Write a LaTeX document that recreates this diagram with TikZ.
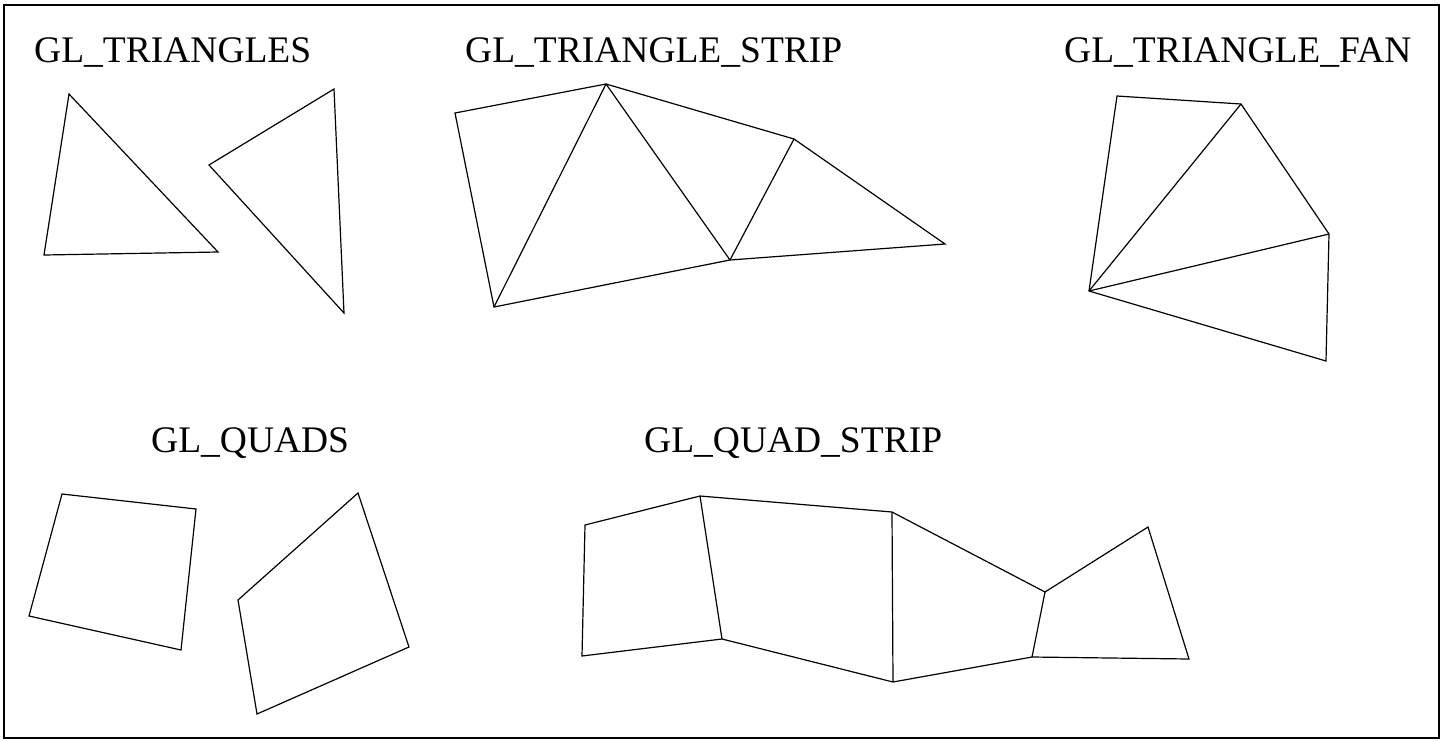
\documentclass[tikz,border=0pt]{standalone}
\usepackage{fontspec}
\setmainfont{Liberation Serif}
\begin{document}
\begin{tikzpicture}[x=1pt,y=-1pt,
  edge/.style={line width=1.2pt, line join=miter},
  title/.style={anchor=base west, inner sep=0pt, font=\fontsize{37.5}{40}\selectfont}]
\useasboundingbox (0,0) rectangle (1444,740);
\draw[line width=2pt] (4,5) rectangle (1439,738);
% labels
\node[title] (tTri) at (34,62) {GL\_TRIANGLES};
\node[title] (tStrip) at (465,62) {GL\_TRIANGLE\_STRIP};
\node[title] (tFan) at (1064,62) {GL\_TRIANGLE\_FAN};
\node[title] (tQuads) at (151,452) {GL\_QUADS};
\node[title] (tQStrip) at (644,452) {GL\_QUAD\_STRIP};
% GL_TRIANGLES
\coordinate (t1a) at (69,94);
\coordinate (t1b) at (44,255);
\coordinate (t1c) at (218,252);
\coordinate (t2a) at (334,89);
\coordinate (t2b) at (209,165);
\coordinate (t2c) at (344,313);
\draw[edge] (t1a) -- (t1b) -- (t1c) -- cycle;
\draw[edge] (t2a) -- (t2b) -- (t2c) -- cycle;
% GL_TRIANGLE_STRIP
\coordinate (sa) at (455,113);
\coordinate (sb) at (606,84);
\coordinate (sc) at (494,307);
\coordinate (sd) at (730,260);
\coordinate (se) at (794,139);
\coordinate (sf) at (945,244);
\draw[edge] (sa) -- (sb) -- (se) -- (sf) -- (sd) -- (sc) -- cycle;
\draw[edge] (sb) -- (sc);
\draw[edge] (sb) -- (sd);
\draw[edge] (se) -- (sd);
% GL_TRIANGLE_FAN
\coordinate (fo) at (1089,291);
\coordinate (f1) at (1117,96);
\coordinate (f2) at (1241,104);
\coordinate (f3) at (1329,234);
\coordinate (f4) at (1326,361);
\draw[edge] (fo) -- (f1) -- (f2) -- (f3) -- (f4) -- cycle;
\draw[edge] (fo) -- (f2);
\draw[edge] (fo) -- (f3);
% GL_QUADS
\coordinate (q1a) at (62,494);
\coordinate (q1b) at (196,509);
\coordinate (q1c) at (181,650);
\coordinate (q1d) at (29,616);
\coordinate (q2a) at (358,493);
\coordinate (q2b) at (409,647);
\coordinate (q2c) at (257,714);
\coordinate (q2d) at (238,600);
\draw[edge] (q1a) -- (q1b) -- (q1c) -- (q1d) -- cycle;
\draw[edge] (q2a) -- (q2b) -- (q2c) -- (q2d) -- cycle;
% GL_QUAD_STRIP
\coordinate (p1) at (585,525);
\coordinate (p2) at (700,496);
\coordinate (p3) at (892,512);
\coordinate (p4) at (582,656);
\coordinate (p5) at (722,639);
\coordinate (p6) at (893,682);
\coordinate (p7) at (1045,592);
\coordinate (p8) at (1032,657);
\coordinate (p9) at (1148,527);
\coordinate (p10) at (1189,659);
\draw[edge] (p1) -- (p2) -- (p3) -- (p7) -- (p9) -- (p10) -- (p8) -- (p6) -- (p5) -- (p4) -- cycle;
\draw[edge] (p2) -- (p5);
\draw[edge] (p3) -- (p6);
\draw[edge] (p7) -- (p8);
\end{tikzpicture}
\end{document}
